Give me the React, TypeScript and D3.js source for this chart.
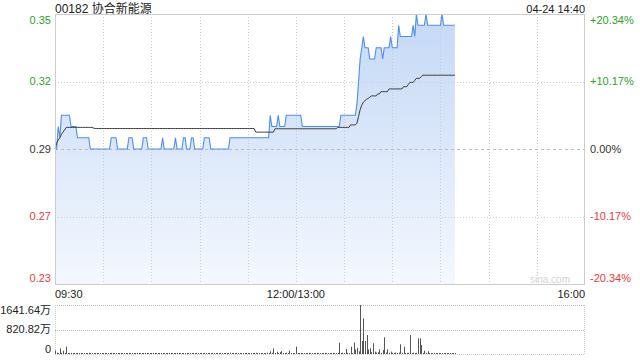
import React from "react";
import * as d3 from "d3";

// ---------- data ----------
const title = "00182 协合新能源";
const stamp = "04-24 14:40";
const prevClose = 0.295;
const pctTicks = [0.2034, 0.1017, 0, -0.1017, -0.2034];
const priceTickLabels = ["0.35", "0.32", "0.29", "0.27", "0.23"];
const pctTickLabels = ["+20.34%", "+10.17%", "0.00%", "-10.17%", "-20.34%"];
const timeTickLabels = ["09:30", "12:00/13:00", "16:00"];
const timeTickMinutes = [0, 150, 330];
const volTickLabels = ["1641.64万", "820.82万", "0"];
const volTickValues = [1641.64, 820.82, 0];

// minute-by-minute last price
const price = [
  0.295, 0.295, 0.305, 0.3, 0.31, 0.31, 0.31, 0.31, 0.31, 0.31,
  0.305, 0.305, 0.305, 0.305, 0.3, 0.3, 0.3, 0.3, 0.3, 0.3,
  0.3, 0.3, 0.295, 0.295, 0.295, 0.295, 0.295, 0.295, 0.295, 0.295,
  0.295, 0.295, 0.295, 0.295, 0.295, 0.3, 0.3, 0.3, 0.3, 0.295,
  0.295, 0.295, 0.295, 0.295, 0.295, 0.295, 0.3, 0.3, 0.3, 0.295,
  0.295, 0.295, 0.295, 0.295, 0.295, 0.3, 0.3, 0.3, 0.295, 0.295,
  0.295, 0.295, 0.295, 0.295, 0.295, 0.295, 0.295, 0.3, 0.295, 0.295,
  0.295, 0.295, 0.295, 0.295, 0.295, 0.3, 0.295, 0.295, 0.295, 0.295,
  0.3, 0.3, 0.295, 0.295, 0.295, 0.3, 0.3, 0.295, 0.295, 0.295,
  0.295, 0.295, 0.295, 0.3, 0.3, 0.3, 0.3, 0.295, 0.295, 0.295,
  0.295, 0.295, 0.295, 0.295, 0.295, 0.295, 0.295, 0.295, 0.295, 0.3,
  0.3, 0.3, 0.3, 0.3, 0.3, 0.3, 0.3, 0.3, 0.3, 0.3,
  0.3, 0.3, 0.3, 0.3, 0.3, 0.3, 0.3, 0.3, 0.3, 0.3,
  0.3, 0.3, 0.3, 0.3, 0.31, 0.305, 0.305, 0.305, 0.305, 0.31,
  0.305, 0.305, 0.305, 0.305, 0.31, 0.31, 0.31, 0.31, 0.31, 0.31,
  0.31, 0.31, 0.31, 0.31, 0.305, 0.305, 0.305, 0.305, 0.305, 0.305,
  0.305, 0.305, 0.305, 0.305, 0.305, 0.305, 0.305, 0.305, 0.305, 0.305,
  0.305, 0.305, 0.305, 0.305, 0.305, 0.305, 0.305, 0.305, 0.31, 0.31,
  0.31, 0.31, 0.31, 0.31, 0.31, 0.31, 0.31, 0.31, 0.315, 0.325,
  0.335, 0.34, 0.345, 0.34, 0.34, 0.34, 0.335, 0.335, 0.335, 0.335,
  0.34, 0.34, 0.34, 0.34, 0.335, 0.34, 0.34, 0.34, 0.34, 0.345,
  0.34, 0.34, 0.34, 0.34, 0.35, 0.345, 0.345, 0.345, 0.345, 0.345,
  0.345, 0.345, 0.345, 0.35, 0.345, 0.355, 0.35, 0.35, 0.35, 0.35,
  0.35, 0.355, 0.35, 0.35, 0.35, 0.35, 0.35, 0.35, 0.35, 0.35,
  0.35, 0.355, 0.35, 0.35, 0.35, 0.35, 0.35, 0.35, 0.35, 0.35,
];

// minute-by-minute average price
const avgPrice = [
  0.295, 0.2975, 0.299, 0.3, 0.3015, 0.3025, 0.3035, 0.3046, 0.3046, 0.3046,
  0.3046, 0.3046, 0.3046, 0.3046, 0.3046, 0.3046, 0.3046, 0.3046, 0.3046, 0.3046,
  0.3046, 0.3046, 0.3046, 0.3046, 0.3043, 0.3041, 0.3041, 0.3041, 0.3041, 0.3041,
  0.3041, 0.3041, 0.3041, 0.3041, 0.3041, 0.3041, 0.3041, 0.3041, 0.3041, 0.3041,
  0.3041, 0.3041, 0.3041, 0.3041, 0.3041, 0.3041, 0.3041, 0.3041, 0.3041, 0.3041,
  0.3041, 0.3041, 0.3041, 0.3041, 0.3041, 0.3041, 0.3041, 0.3041, 0.3041, 0.3041,
  0.3041, 0.3041, 0.3041, 0.3041, 0.3041, 0.3041, 0.3041, 0.3041, 0.3041, 0.3041,
  0.3041, 0.3041, 0.3041, 0.3041, 0.3041, 0.3041, 0.3041, 0.3041, 0.3041, 0.3041,
  0.3041, 0.3041, 0.3041, 0.3041, 0.3041, 0.3041, 0.3041, 0.3041, 0.3041, 0.3041,
  0.3041, 0.3041, 0.3041, 0.3041, 0.3041, 0.3041, 0.3041, 0.3041, 0.3041, 0.3041,
  0.3041, 0.3041, 0.3041, 0.3041, 0.3041, 0.3041, 0.3041, 0.3041, 0.3041, 0.3041,
  0.3041, 0.3041, 0.3041, 0.3041, 0.3041, 0.3041, 0.3041, 0.3041, 0.3041, 0.3041,
  0.3041, 0.3041, 0.3041, 0.3041, 0.3041, 0.3025, 0.3025, 0.3025, 0.3025, 0.3025,
  0.3025, 0.3025, 0.3025, 0.3025, 0.3025, 0.3025, 0.3025, 0.304, 0.304, 0.304,
  0.304, 0.304, 0.304, 0.304, 0.304, 0.304, 0.304, 0.304, 0.304, 0.304,
  0.304, 0.304, 0.304, 0.304, 0.304, 0.304, 0.304, 0.304, 0.304, 0.304,
  0.304, 0.304, 0.304, 0.304, 0.304, 0.304, 0.304, 0.304, 0.304, 0.304,
  0.304, 0.304, 0.304, 0.304, 0.304, 0.304, 0.3046, 0.3046, 0.3046, 0.3046,
  0.3046, 0.3046, 0.3046, 0.3046, 0.3057, 0.3057, 0.3057, 0.3057, 0.3065, 0.3095,
  0.3125, 0.3145, 0.3158, 0.3165, 0.3171, 0.3175, 0.318, 0.3186, 0.3186, 0.3186,
  0.3186, 0.3195, 0.3195, 0.3205, 0.3205, 0.3205, 0.3205, 0.3205, 0.3217, 0.3217,
  0.3217, 0.3217, 0.3217, 0.3217, 0.3217, 0.3217, 0.3217, 0.3227, 0.3227, 0.3227,
  0.3237, 0.3246, 0.3246, 0.3246, 0.3255, 0.3264, 0.3264, 0.3264, 0.3272, 0.3278,
  0.3278, 0.3278, 0.3278, 0.3278, 0.3278, 0.3278, 0.3278, 0.3278, 0.3278, 0.3278,
  0.3278, 0.3278, 0.3278, 0.3278, 0.3278, 0.3278, 0.3278, 0.3278, 0.3278, 0.3278,
];

// minute-by-minute volume (万股)
const volume = [
  120, 45, 30, 190, 40, 110, 35, 245, 30, 25,
  40, 20, 30, 25, 35, 20, 15, 30, 25, 20,
  30, 40, 25, 15, 20, 30, 20, 15, 25, 20,
  15, 20, 30, 25, 20, 35, 15, 20, 25, 15,
  20, 15, 30, 20, 25, 15, 35, 20, 15, 20,
  25, 20, 15, 30, 20, 15, 25, 30, 15, 20,
  20, 15, 25, 20, 15, 20, 30, 35, 15, 20,
  15, 20, 25, 15, 20, 30, 20, 15, 25, 20,
  30, 25, 15, 20, 15, 30, 20, 15, 20, 25,
  15, 20, 25, 30, 20, 15, 20, 15, 25, 20,
  15, 20, 25, 15, 20, 15, 25, 20, 30, 45,
  20, 25, 15, 20, 30, 15, 20, 25, 15, 20,
  25, 20, 15, 30, 20, 40, 25, 20, 15, 25,
  30, 20, 45, 25, 90, 40, 190, 30, 80, 25,
  60, 100, 30, 25, 45, 30, 110, 25, 20, 30,
  245, 30, 25, 20, 35, 20, 15, 25, 30, 20,
  15, 20, 25, 20, 15, 30, 20, 15, 25, 20,
  20, 25, 15, 30, 20, 25, 40, 380, 30, 45,
  25, 170, 40, 30, 245, 35, 380, 150, 210, 90,
  1641.64, 435, 1195, 435, 635, 155, 190, 60, 360, 80,
  45, 60, 155, 40, 130, 560, 50, 155, 45, 80,
  40, 35, 50, 30, 45, 325, 40, 245, 30, 35,
  40, 635, 30, 45, 35, 40, 525, 525, 300, 35,
  110, 40, 90, 35, 30, 25, 40, 30, 25, 35,
  30, 25, 35, 20, 30, 25, 30, 20, 25, 30,
];

// ---------- layout ----------
const W = 640;
const H = 360;
const L = 55;
const R = 585;
const T = 14;
const B = 284;
const VT = 305;
const VB = 354;
const FONT = "'Liberation Sans', Arial, 'Noto Sans CJK SC', sans-serif";
const GREEN = "#29a329";
const RED = "#ee3a3a";
const DARK = "#333";

export default function App() {
  const x = d3.scaleLinear().domain([0, 330]).range([L, R]);
  const y = d3
    .scaleLinear()
    .domain([prevClose * (1 - 0.2034), prevClose * (1 + 0.2034)])
    .range([B, T]);
  const yv = d3.scaleLinear().domain([0, d3.max(volume) as number]).range([VB, VT]);

  const line = d3
    .line<number>()
    .x((_, i) => x(i))
    .y((d) => y(d));
  const area = d3
    .area<number>()
    .x((_, i) => x(i))
    .y0(B)
    .y1((d) => y(d));

  const colorFor = (p: number) => (p > 0 ? GREEN : p < 0 ? RED : DARK);
  const labelY = (p: number) => {
    const yy = y(prevClose * (1 + p));
    return Math.min(Math.max(yy, T + 6), B - 6);
  };

  const vgrid = d3.range(1, 11).map((k) => Math.round(x(k * 30)) + 0.5);

  return (
    <svg
      width={W}
      height={H}
      style={{ position: "absolute", left: 0, top: 0, background: "#fff" }}
      fontFamily={FONT}
    >
      <defs>
        <linearGradient id="fillGrad" gradientUnits="userSpaceOnUse" x1="0" y1={T} x2="0" y2={B}>
          <stop offset="0" stopColor="#c4d8f6" />
          <stop offset="1" stopColor="#f4f8fe" />
        </linearGradient>
      </defs>

      {/* title */}
      <text x={L} y={13} fontSize={12} fill="#222">
        {title}
      </text>
      <text x={R} y={13} fontSize={11} fill="#222" textAnchor="end">
        {stamp}
      </text>

      {/* price area + lines */}
      <path d={area(price) || ""} fill="url(#fillGrad)" />

      {/* grid */}
      {vgrid.map((gx, i) => (
        <line key={"vg" + i} x1={gx} x2={gx} y1={T} y2={B} stroke="#ccc" strokeDasharray="1,2" />
      ))}
      {pctTicks
        .filter((p) => p !== 0 && Math.abs(p) < 0.2)
        .map((p, i) => {
          const gy = Math.round(y(prevClose * (1 + p))) + 0.5;
          return <line key={"hg" + i} x1={L} x2={R} y1={gy} y2={gy} stroke="#ccc" strokeDasharray="1,2" />;
        })}
      <line
        x1={L}
        x2={R}
        y1={Math.round(y(prevClose)) + 0.5}
        y2={Math.round(y(prevClose)) + 0.5}
        stroke="#bbb"
        strokeDasharray="3,3"
      />

      <path d={line(price) || ""} fill="none" stroke="#4d8ef0" strokeWidth={1.1} />
      <path d={line(avgPrice) || ""} fill="none" stroke="#3a3a3a" strokeWidth={1} />

      <rect x={L + 0.5} y={T + 0.5} width={R - L - 1} height={B - T} fill="none" stroke="#ccc" />

      <text x={570} y={283} fontSize={10} fill="#d4d4d4" textAnchor="end">
        sina.com
      </text>

      {/* axis labels */}
      {pctTicks.map((p, i) => (
        <g key={"yl" + i}>
          <text x={51} y={labelY(p)} dy="0.35em" fontSize={11} fill={colorFor(p)} textAnchor="end">
            {priceTickLabels[i]}
          </text>
          <text x={590} y={labelY(p)} dy="0.35em" fontSize={11} fill={colorFor(p)}>
            {pctTickLabels[i]}
          </text>
        </g>
      ))}

      {timeTickLabels.map((t, i) => (
        <text
          key={"t" + i}
          x={x(timeTickMinutes[i])}
          y={298}
          fontSize={11}
          fill="#222"
          textAnchor={i === 0 ? "start" : i === timeTickLabels.length - 1 ? "end" : "middle"}
        >
          {t}
        </text>
      ))}

      {/* volume panel */}
      <line x1={L} x2={R} y1={VT + 0.5} y2={VT + 0.5} stroke="#bbb" strokeDasharray="1,1" />
      <line
        x1={L}
        x2={R}
        y1={Math.round(yv(820.82)) + 0.5}
        y2={Math.round(yv(820.82)) + 0.5}
        stroke="#bbb"
        strokeDasharray="1,1"
      />
      <line x1={L} x2={R} y1={VB + 0.5} y2={VB + 0.5} stroke="#ccc" strokeDasharray="1,1" />
      <line x1={L + 0.5} x2={L + 0.5} y1={VT} y2={VB} stroke="#ccc" strokeDasharray="1,1" />
      <line x1={R - 0.5} x2={R - 0.5} y1={VT} y2={VB} stroke="#ccc" strokeDasharray="1,1" />

      {volume.map((v, i) => {
        const bx = Math.round(x(i)) + 0.5;
        const top = Math.min(yv(v), VB - 1);
        return <line key={"v" + i} x1={bx} x2={bx} y1={VB} y2={top} stroke="#555" strokeWidth={1} />;
      })}

      {volTickValues.map((v, i) => {
        let yy = yv(v);
        yy = Math.min(Math.max(yy, VT + 5), VB - 5);
        return (
          <text key={"vl" + i} x={51} y={yy} dy="0.35em" fontSize={11} fill="#222" textAnchor="end">
            {volTickLabels[i]}
          </text>
        );
      })}
    </svg>
  );
}
